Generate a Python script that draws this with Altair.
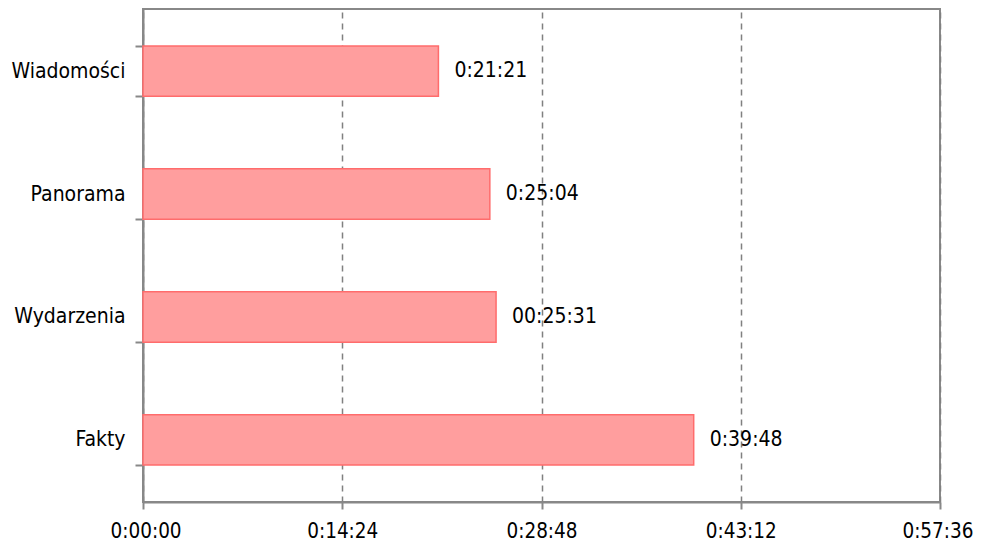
import altair as alt
import pandas as pd

categories = ["Wiadomości", "Panorama", "Wydarzenia", "Fakty"]
durations_sec = [1281, 1504, 1531, 2388]
value_labels = ["0:21:21", "0:25:04", "00:25:31", "0:39:48"]
tick_values = [0, 864, 1728, 2592, 3456]
tick_labels = ["0:00:00", "0:14:24", "0:28:48", "0:43:12", "0:57:36"]

df = pd.DataFrame({"cat": categories, "sec": durations_sec, "lab": value_labels})

FONT = "DejaVu Sans Condensed, DejaVu Sans"
FS = 21

label_expr = ""
for v, l in zip(tick_values, tick_labels):
    label_expr += f"datum.value == {v} ? '{l}' : "
label_expr += "''"

x = alt.X("sec:Q", scale=alt.Scale(domain=[0, 3456], nice=False, zero=True),
          axis=alt.Axis(values=tick_values, labelExpr=label_expr, title=None,
                        grid=True, gridDash=[6, 5], gridColor="#808080", gridWidth=1.5,
                        domainColor="#888888", domainWidth=2, tickColor="#888888",
                        tickWidth=2, tickSize=7, labelFont=FONT, labelFontSize=20.5,
                        labelColor="#000000", labelPadding=12, labelFlush=True,
                        labelFlushOffset=33, labelOverlap=False))
y = alt.Y("cat:N", sort=categories,
          scale=alt.Scale(paddingInner=0.59, paddingOuter=0.3),
          axis=alt.Axis(title=None, grid=False, tickBand="extent",
                        domainColor="#888888", domainWidth=2, tickColor="#888888",
                        tickWidth=2, tickSize=8, labelFont=FONT, labelFontSize=FS,
                        labelColor="#000000", labelPadding=10))

bars = alt.Chart(df).mark_bar(fill="#ff9e9e", stroke="#ff6c6c", strokeWidth=1.5).encode(x=x, y=y)
texts = alt.Chart(df).mark_text(align="left", baseline="middle", dx=16, font=FONT,
                                fontSize=FS, color="#000000").encode(
    x=alt.X("sec:Q"), y=alt.Y("cat:N", sort=categories), text="lab:N")

chart = (bars + texts).properties(
    width=797, height=493,
    background="white",
    autosize=alt.AutoSizeParams(type="none"),
    padding={"left": 135, "top": 1, "right": 34, "bottom": 42},
).configure_view(stroke="#888888", strokeWidth=2)

chart.save("out.html", embed_options={"renderer": "svg", "actions": False})
